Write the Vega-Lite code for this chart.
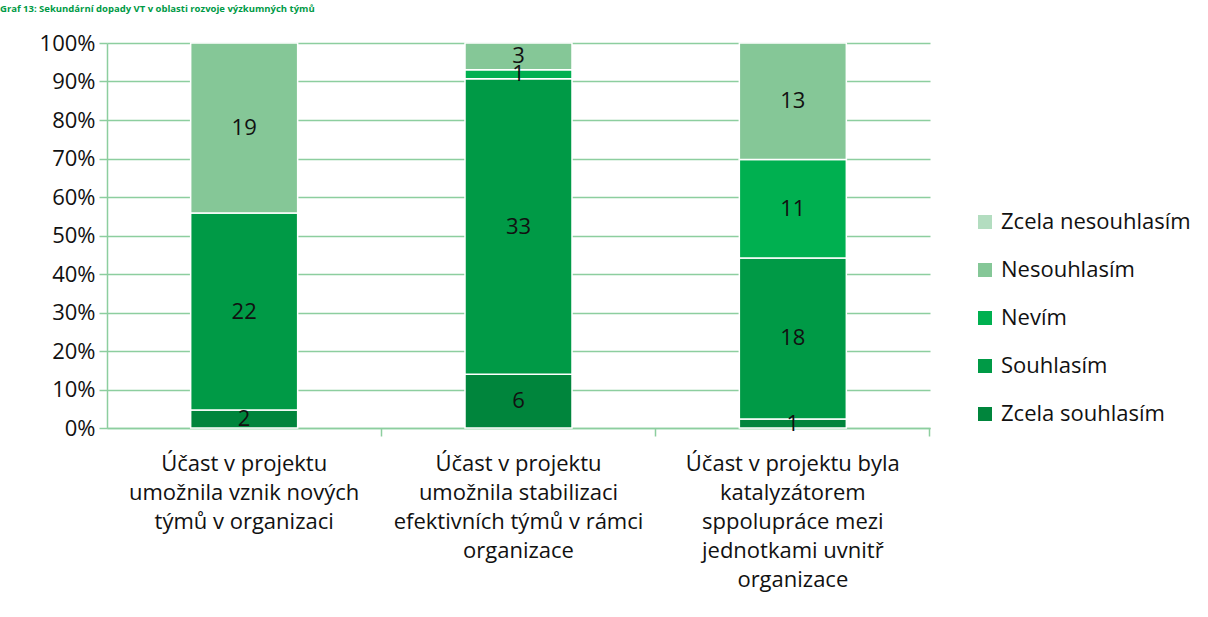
{
  "$schema": "https://vega.github.io/schema/vega-lite/v6.json",
  "width": 823,
  "height": 385,
  "autosize": {"type": "none"},
  "padding": {"left": 107, "top": 43, "right": 278, "bottom": 189},
  "background": "white",
  "title": {
    "text": "Graf 13: Sekundární dopady VT v oblasti rozvoje výzkumných týmů",
    "anchor": "start",
    "frame": "group",
    "font": "Open Sans",
    "fontSize": 9.5,
    "fontWeight": "bold",
    "color": "#009A46",
    "baseline": "alphabetic",
    "dx": -107,
    "offset": 25,
    "dy": 14
  },
  "data": {
    "values": [
      {"kat": "Účast v projektu\numožnila vznik nových\ntýmů v organizaci", "odpoved": "Zcela souhlasím", "poradi": 1, "pocet": 2},
      {"kat": "Účast v projektu\numožnila vznik nových\ntýmů v organizaci", "odpoved": "Souhlasím", "poradi": 2, "pocet": 22},
      {"kat": "Účast v projektu\numožnila vznik nových\ntýmů v organizaci", "odpoved": "Nesouhlasím", "poradi": 4, "pocet": 19},
      {"kat": "Účast v projektu\numožnila stabilizaci\nefektivních týmů v rámci\norganizace", "odpoved": "Zcela souhlasím", "poradi": 1, "pocet": 6},
      {"kat": "Účast v projektu\numožnila stabilizaci\nefektivních týmů v rámci\norganizace", "odpoved": "Souhlasím", "poradi": 2, "pocet": 33},
      {"kat": "Účast v projektu\numožnila stabilizaci\nefektivních týmů v rámci\norganizace", "odpoved": "Nevím", "poradi": 3, "pocet": 1},
      {"kat": "Účast v projektu\numožnila stabilizaci\nefektivních týmů v rámci\norganizace", "odpoved": "Nesouhlasím", "poradi": 4, "pocet": 3},
      {"kat": "Účast v projektu byla\nkatalyzátorem\nsppolupráce mezi\njednotkami uvnitř\norganizace", "odpoved": "Zcela souhlasím", "poradi": 1, "pocet": 1},
      {"kat": "Účast v projektu byla\nkatalyzátorem\nsppolupráce mezi\njednotkami uvnitř\norganizace", "odpoved": "Souhlasím", "poradi": 2, "pocet": 18},
      {"kat": "Účast v projektu byla\nkatalyzátorem\nsppolupráce mezi\njednotkami uvnitř\norganizace", "odpoved": "Nevím", "poradi": 3, "pocet": 11},
      {"kat": "Účast v projektu byla\nkatalyzátorem\nsppolupráce mezi\njednotkami uvnitř\norganizace", "odpoved": "Nesouhlasím", "poradi": 4, "pocet": 13}
    ]
  },
  "layer": [
    {
      "mark": {"type": "bar", "stroke": "white", "strokeWidth": 1.5},
      "encoding": {
        "x": {
          "field": "kat",
          "type": "nominal",
          "sort": null,
          "scale": {"paddingInner": 0.61, "paddingOuter": 0.305},
          "axis": {
            "title": null,
            "orient": "bottom",
            "labelAngle": 0,
            "labelExpr": "split(datum.label, '\\n')",
            "labelFont": "Open Sans",
            "labelFontSize": 22,
            "labelColor": "#111111",
            "labelLineHeight": 29,
            "labelPadding": 25,
            "labelLimit": 300,
            "ticks": false,
            "domainColor": "#8DCE9F",
            "domainWidth": 1.5
          }
        },
        "y": {
          "field": "pocet",
          "type": "quantitative",
          "stack": "normalize",
          "scale": {"domain": [0, 1]},
          "axis": {
            "title": null,
            "format": ".0%",
            "values": [0, 0.1, 0.2, 0.3, 0.4, 0.5, 0.6, 0.7, 0.8, 0.9, 1],
            "labelOverlap": false,
            "labelFont": "Open Sans",
            "labelFontSize": 22,
            "labelColor": "#111111",
            "labelPadding": 4,
            "grid": true,
            "gridColor": "#8DCE9F",
            "gridWidth": 1.5,
            "tickColor": "#8DCE9F",
            "tickSize": 8,
            "tickWidth": 1.5,
            "domainColor": "#8DCE9F",
            "domainWidth": 1.5
          }
        },
        "color": {
          "field": "odpoved",
          "type": "nominal",
          "scale": {
            "domain": ["Zcela souhlasím", "Souhlasím", "Nevím", "Nesouhlasím", "Zcela nesouhlasím"],
            "range": ["#00853C", "#009A46", "#00B050", "#85C797", "#B3DDC0"]
          },
          "legend": {
            "title": null,
            "values": ["Zcela nesouhlasím", "Nesouhlasím", "Nevím", "Souhlasím", "Zcela souhlasím"],
            "orient": "none",
            "legendX": 867,
            "legendY": 168,
            "symbolType": "square",
            "symbolSize": 196,
            "symbolStrokeWidth": 0,
            "labelFont": "Open Sans",
            "labelFontSize": 22,
            "labelColor": "#111111",
            "labelOffset": 5,
            "labelLimit": 400,
            "rowPadding": 26
          }
        },
        "order": {"field": "poradi", "type": "quantitative", "sort": "ascending"}
      }
    },
    {
      "transform": [
        {"stack": "pocet", "groupby": ["kat"], "sort": [{"field": "poradi", "order": "ascending"}], "offset": "normalize", "as": ["y0", "y1"]},
        {"fold": ["y0", "y1"], "as": ["kraj", "hodnota"]},
        {"aggregate": [{"op": "mean", "field": "hodnota", "as": "ystred"}, {"op": "max", "field": "pocet", "as": "n"}], "groupby": ["kat", "odpoved"]}
      ],
      "mark": {"type": "text", "font": "Open Sans", "fontSize": 22, "color": "#111111", "baseline": "middle"},
      "encoding": {
        "x": {
          "field": "kat",
          "type": "nominal",
          "sort": null,
          "axis": {
            "title": null,
            "orient": "bottom",
            "labels": false,
            "domain": false,
            "grid": false,
            "ticks": true,
            "tickSize": 8,
            "tickWidth": 1.5,
            "tickColor": "#8DCE9F",
            "bandPosition": 1.782
          }
        },
        "y": {
          "field": "ystred",
          "type": "quantitative",
          "stack": null,
          "axis": {
            "title": null,
            "format": ".0%",
            "values": [0, 0.1, 0.2, 0.3, 0.4, 0.5, 0.6, 0.7, 0.8, 0.9, 1],
            "labelOverlap": false,
            "labelFont": "Open Sans",
            "labelFontSize": 22,
            "labelColor": "#111111",
            "labelPadding": 4,
            "grid": true,
            "gridColor": "#8DCE9F",
            "gridWidth": 1.5,
            "tickColor": "#8DCE9F",
            "tickSize": 8,
            "tickWidth": 1.5,
            "domainColor": "#8DCE9F",
            "domainWidth": 1.5
          }
        },
        "text": {"field": "n", "type": "quantitative"}
      }
    }
  ],
  "resolve": {"axis": {"x": "independent"}},
  "config": {
    "view": {"stroke": null}
  }
}
